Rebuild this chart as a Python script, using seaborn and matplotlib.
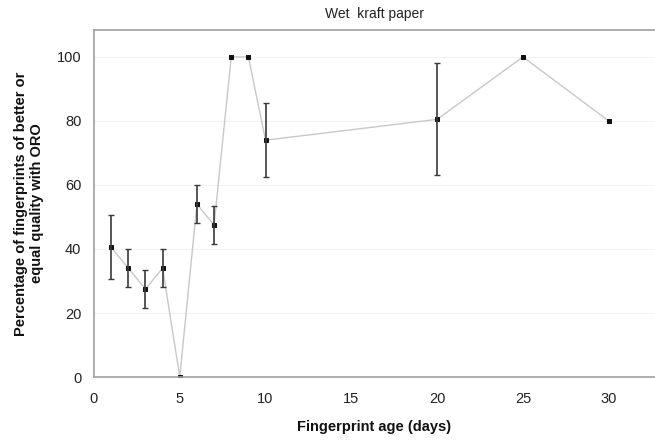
import matplotlib
matplotlib.use("Agg")
import matplotlib.pyplot as plt
import seaborn as sns
import pandas as pd
import numpy as np

# Fingerprint age (days) and percentage of prints of better/equal quality with ORO
days = [1, 2, 3, 4, 5, 6, 7, 8, 9, 10, 20, 25, 30]
percent = [40.5, 34, 27.5, 34, 0, 54, 47.5, 100, 100, 74, 80.5, 100, 80]
errors = [10, 6, 6, 6, 0, 6, 6, 0, 0, 11.5, 17.5, 0, 0]

x_ticks = [0, 5, 10, 15, 20, 25, 30]
y_ticks = [0, 20, 40, 60, 80, 100]

df = pd.DataFrame({"day": days, "pct": percent, "err": errors})

sns.set_style("white")
plt.rcParams["font.family"] = ["Liberation Sans", "DejaVu Sans"]

fig = plt.figure(figsize=(6.55, 4.42), dpi=100)
ax = fig.add_axes([0.1435, 0.147, 0.8565, 0.785])

# faint horizontal gridlines
for yv in y_ticks[1:]:
    ax.axhline(yv, color="#f2f2f2", lw=0.8, zorder=0)

sns.lineplot(data=df, x="day", y="pct", ax=ax, color="#c8c8c8", lw=1.0,
             marker="s", markersize=2.6, markerfacecolor="#111111",
             markeredgecolor="#111111", zorder=2)

has_err = df["err"] > 0
ax.errorbar(df.loc[has_err, "day"], df.loc[has_err, "pct"], yerr=df.loc[has_err, "err"],
            fmt="none", ecolor="#3a3a3a", elinewidth=1.2, capsize=2.5, capthick=1.0, zorder=3)

ax.set_xlim(0, 32.7)
ax.set_ylim(0, 108.4)
ax.set_xticks(x_ticks)
ax.set_yticks(y_ticks)
ax.tick_params(axis="both", direction="out", length=3, width=0.8, color="#aaaaaa",
               labelsize=10.5, labelcolor="#222222", pad=8)
ax.tick_params(axis="y", pad=6)

for side, sp in ax.spines.items():
    sp.set_color("#a0a0a0")
    sp.set_linewidth(1.2)
ax.spines["right"].set_visible(False)

ax.set_title("Wet  kraft paper", fontsize=10, color="#222222", pad=9)
ax.set_xlabel("Fingerprint age (days)", fontsize=10.5, fontweight="bold", color="#111111", labelpad=10)
ax.set_ylabel("Percentage of fingerprints of better or\nequal quality with ORO", fontsize=10.5,
              fontweight="bold", color="#111111", labelpad=9, linespacing=1.2)

fig.savefig("out.png", dpi=100)
